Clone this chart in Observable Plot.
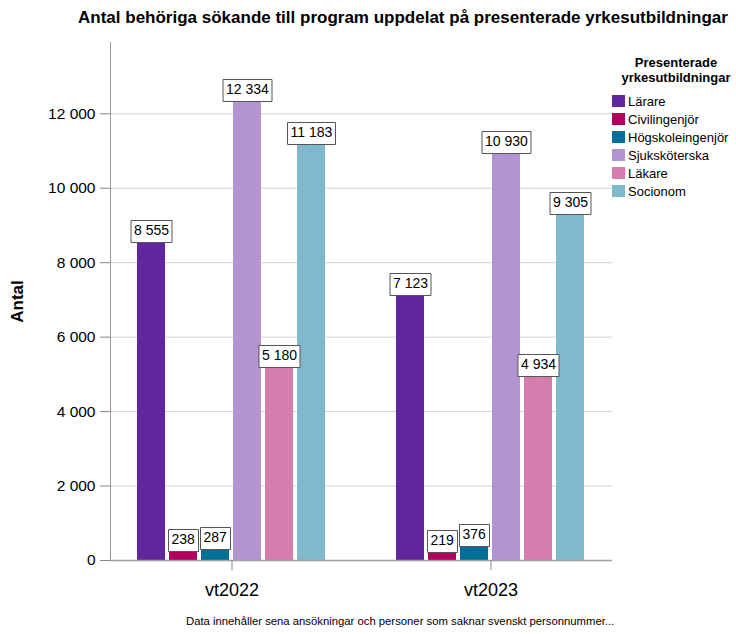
<!DOCTYPE html>
<html>
<head>
<meta charset="utf-8">
<script src="https://cdn.jsdelivr.net/npm/d3@7"></script>
<script src="https://cdn.jsdelivr.net/npm/@observablehq/plot@0.6"></script>
<style>
  html, body { margin: 0; padding: 0; background: #fff; }
  #wrap { position: relative; width: 736px; height: 634px; font-family: "Liberation Sans", Arial, sans-serif; color: #000; }
  #title { position: absolute; left: 0; width: 806px; top: 8px; text-align: center; font-weight: bold; font-size: 17px; white-space: nowrap; }
  #caption { position: absolute; left: 186px; top: 615px; font-size: 11.3px; white-space: nowrap; }
  #legend { position: absolute; left: 612px; top: 55px; font-size: 13px; }
  #legend .lt { font-weight: bold; font-size: 13px; text-align: center; line-height: 15px; margin-left: 2px; width: 124px; margin-bottom: 7px; }
  #legend .row { display: flex; align-items: center; height: 18px; }
  #legend .sw { width: 13px; height: 12px; margin-right: 3px; }
  svg [aria-label="y-axis label"] text { font-weight: bold; font-size: 17px; }
</style>
</head>
<body>
<div id="wrap">
  <div id="chart"></div>
  <div id="title"></div>
  <div id="legend"></div>
  <div id="caption"></div>
</div>
<script>
const titleText = "Antal behöriga sökande till program uppdelat på presenterade yrkesutbildningar";
const captionText = "Data innehåller sena ansökningar och personer som saknar svenskt personnummer...";
const legendTitle = ["Presenterade", "yrkesutbildningar"];
const years = ["vt2022", "vt2023"];
const categories = ["Lärare", "Civilingenjör", "Högskoleingenjör", "Sjuksköterska", "Läkare", "Socionom"];
const values2022 = [8555, 238, 287, 12334, 5180, 11183];
const values2023 = [7123, 219, 376, 10930, 4934, 9305];
const colors = ["#61269e", "#b3005f", "#006f97", "#b194d0", "#d77dad", "#80b8cc"];
const yTicks = [0, 2000, 4000, 6000, 8000, 10000, 12000];

const seriesByYear = [values2022, values2023];
const data = years.flatMap((yr, i) => categories.map((c, j) => ({year: yr, category: c, value: seriesByYear[i][j]})));
const gridFor = yr => yTicks.map(v => ({year: yr, v}));

const locale = d3.formatLocale({decimal: ",", thousands: " ", grouping: [3], currency: ["", " kr"]});
const fmt = locale.format(",d");

document.getElementById("title").textContent = titleText;
document.getElementById("caption").textContent = captionText;
const leg = document.getElementById("legend");
leg.innerHTML = `<div class="lt">${legendTitle.join("<br>")}</div>` +
  categories.map((c, i) => `<div class="row"><div class="sw" style="background:${colors[i]}"></div><span>${c}</span></div>`).join("");

const chart = Plot.plot({
  width: 736,
  height: 634,
  marginTop: 42,
  marginBottom: 74,
  marginLeft: 109,
  marginRight: 123,
  style: {fontFamily: "'Liberation Sans', Arial, sans-serif", background: "white", color: "black"},
  fx: {domain: years, paddingInner: 0.0615, paddingOuter: 0, label: null},
  x: {domain: categories, paddingInner: 0.11, paddingOuter: 0.844, axis: null},
  y: {domain: [0, 13915]},
  color: {domain: categories, range: colors},
  marks: [
    Plot.ruleY(gridFor(years[0]).slice(1), {fx: "year", y: "v", stroke: "#d4d4d4", insetRight: -8}),
    Plot.ruleY(gridFor(years[1]).slice(1), {fx: "year", y: "v", stroke: "#d4d4d4", insetLeft: -8}),
    Plot.barY(data, {fx: "year", x: "category", y: "value", fill: "category"}),
    Plot.ruleY(gridFor(years[0]).slice(0, 1), {fx: "year", y: "v", stroke: "#a0a0a0", strokeWidth: 1.5, insetRight: -8}),
    Plot.ruleY(gridFor(years[1]).slice(0, 1), {fx: "year", y: "v", stroke: "#a0a0a0", strokeWidth: 1.5, insetLeft: -8}),
    Plot.frame({anchor: "left", facetAnchor: "left", stroke: "#999"}),
    Plot.tip(data, {fx: "year", x: "category", y: "value", title: d => fmt(d.value), anchor: "bottom", pointerSize: 0, pathFilter: "none", textPadding: 3, fontSize: 14, lineHeight: 1, stroke: "#555", fill: "white"}),
    Plot.axisY(yTicks, {tickFormat: fmt, tickSize: 10, tickPadding: 5, fontSize: 15.5, stroke: "#888", label: "Antal", labelAnchor: "center", labelArrow: "none", labelOffset: 100}),
    Plot.axisFx({anchor: "bottom", tickSize: 10, fontSize: 18, tickPadding: 13, stroke: "#888", label: null})
  ]
});
document.getElementById("chart").appendChild(chart);
</script>
</body>
</html>
